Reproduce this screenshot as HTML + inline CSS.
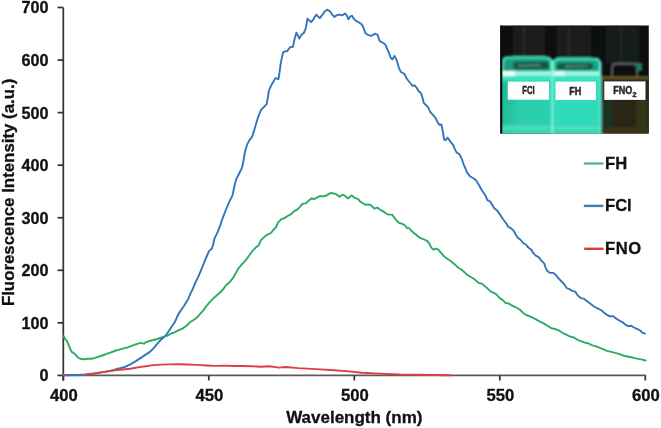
<!DOCTYPE html>
<html><head><meta charset="utf-8"><style>
html,body{margin:0;padding:0;background:#fff;}
svg{display:block;font-family:"Liberation Sans",sans-serif;font-weight:bold;filter:blur(0.4px);}
</style></head><body>
<svg width="661" height="428" viewBox="0 0 661 428">
<defs>
<filter id="bl" x="-10%" y="-10%" width="120%" height="120%"><feGaussianBlur stdDeviation="0.8"/></filter>
<filter id="bl2" x="-10%" y="-10%" width="120%" height="120%"><feGaussianBlur stdDeviation="1.5"/></filter>
<filter id="ls" x="-5%" y="-5%" width="110%" height="110%"><feGaussianBlur stdDeviation="0.45"/></filter>
<filter id="pb1" x="-5%" y="-5%" width="110%" height="110%"><feGaussianBlur stdDeviation="0.9"/></filter>
<filter id="pb2" x="-5%" y="-5%" width="110%" height="110%"><feGaussianBlur stdDeviation="0.45"/></filter>
<linearGradient id="cy" x1="0" y1="0" x2="0" y2="1">
<stop offset="0" stop-color="#2fcfa8"/><stop offset="1" stop-color="#2bc09c"/>
</linearGradient>
</defs>
<rect width="661" height="428" fill="#fff"/>
<!-- inset photo -->

<linearGradient id="v1l" x1="0" y1="0" x2="1" y2="0"><stop offset="0" stop-color="#22b896"/><stop offset="1" stop-color="#2ccfad"/></linearGradient>
<clipPath id="pc"><rect x="500.3" y="25.6" width="148.5" height="108"/></clipPath>
<g clip-path="url(#pc)">
<rect x="500" y="25" width="150" height="110" fill="#0d0f0f"/>
<g filter="url(#pb1)">
<rect x="513" y="26" width="32" height="32" fill="#1b1f1f"/>
<rect x="557" y="26" width="34" height="33" fill="#1b1f1f"/>
<rect x="606" y="26" width="33" height="38" fill="#171b1b"/>
<rect x="523" y="26" width="2" height="30" fill="#252a2a"/>
<rect x="568" y="26" width="2" height="30" fill="#252a2a"/>
<rect x="620" y="26" width="2" height="36" fill="#222626"/>
<!-- vial 3 -->
<rect x="602" y="79" width="47" height="56" fill="#2a2614"/>
<rect x="603" y="100" width="10" height="34" fill="#1e3024"/>
<rect x="636" y="100" width="12" height="34" fill="#323416"/>
<rect x="604" y="127" width="44" height="7" fill="#3a301a"/>
<path d="M612 76 L612 68 Q612 64 617 64 L633 64 Q637 64 637 68 L637 76" fill="none" stroke="#56605e" stroke-width="2.4"/>
<rect x="636" y="63" width="6" height="8" fill="#1f7a5a"/>
<rect x="602" y="76" width="47" height="3.2" fill="#665424"/>
<!-- vial 1 -->
<path d="M501.5 135 L501.5 62 Q501.5 56.2 508 56.2 L546 56.2 Q552.5 56.2 552.5 62 L552.5 135 Z" fill="#3ed6b0"/>
<path d="M504 72 L504 63 Q504 58.8 509 58.8 L545 58.8 Q550 58.8 550 63 L550 72 Z" fill="#1f9c7c"/>
<rect x="513" y="61.8" width="36" height="7.2" rx="3" fill="#135848"/>
<line x1="519" y1="65.6" x2="541" y2="65.3" stroke="#8fb0a8" stroke-width="1.1" stroke-dasharray="2.5 1.2"/>
<!-- vial 2 -->
<path d="M552.5 135 L552.5 63.5 Q552.5 57.6 559 57.6 L595 57.6 Q601 57.6 601 63.5 L601 135 Z" fill="#3edab4"/>
<path d="M555 72 L555 64.5 Q555 60.2 560 60.2 L594 60.2 Q598.5 60.2 598.5 64.5 L598.5 72 Z" fill="#1f9c7c"/>
<rect x="557" y="63.3" width="36" height="6" rx="3" fill="#135848"/>
<line x1="566" y1="66.4" x2="588" y2="66" stroke="#8fb0a8" stroke-width="1.1" stroke-dasharray="2.5 1.2"/>
<!-- bright band -->
<rect x="501.5" y="71.2" width="99" height="4.4" fill="#a0f8e6"/>
<rect x="502" y="71" width="13" height="5" fill="#eafffa"/>
<rect x="553" y="71.2" width="12" height="4.4" fill="#d6fff5"/>
<rect x="501.5" y="76" width="99" height="5" fill="#3ae2c4"/>
<!-- bodies -->
<rect x="501.5" y="81" width="51" height="54" fill="#2ccfad"/>
<rect x="501.5" y="81" width="18" height="54" fill="url(#v1l)"/>
<rect x="553" y="81" width="47.5" height="54" fill="#2ddcbc"/>
<rect x="501.5" y="124" width="99" height="10" fill="#3cd6b4" opacity="0.7"/>
<rect x="501.5" y="126.5" width="99" height="3" fill="#5ee6c8" opacity="0.6"/>
<!-- edges -->
<rect x="551.3" y="60" width="2" height="75" fill="#7ff0dc"/>
<rect x="599.3" y="62" width="2.2" height="73" fill="#63e8d0"/>
</g>
<rect x="500" y="25" width="2.2" height="110" fill="#0b0d0d"/>
<g filter="url(#pb2)">
<rect x="507.8" y="81.6" width="41.3" height="18.1" fill="#fff"/>
<rect x="555.5" y="81.6" width="40.5" height="18.4" fill="#fff"/>
<rect x="604.3" y="81.4" width="41.2" height="18.5" fill="#fff"/>
<g font-size="10.2" fill="#262626" stroke="#262626" stroke-width="0.45" font-weight="bold">
<text x="522.3" y="94.3" textLength="12.4" lengthAdjust="spacingAndGlyphs">FCl</text>
<text x="569.2" y="94.7" textLength="12.1" lengthAdjust="spacingAndGlyphs">FH</text>
<text x="613.2" y="94.4" textLength="19" lengthAdjust="spacingAndGlyphs">FNO</text>
<text x="632.6" y="96.6" font-size="6.8" textLength="4" lengthAdjust="spacingAndGlyphs">2</text>
</g>
</g>
</g>

<!-- axes -->
<g stroke="#353535" stroke-width="1.75" fill="none">
<line x1="63.3" y1="7.5" x2="63.3" y2="380.5"/>
<line x1="62.5" y1="375.4" x2="645.8" y2="375.4" stroke="#5a5a5a" stroke-width="1.9"/>
<line x1="57.5" y1="375.40" x2="63.3" y2="375.40"/><line x1="57.5" y1="322.84" x2="63.3" y2="322.84"/><line x1="57.5" y1="270.29" x2="63.3" y2="270.29"/><line x1="57.5" y1="217.73" x2="63.3" y2="217.73"/><line x1="57.5" y1="165.17" x2="63.3" y2="165.17"/><line x1="57.5" y1="112.61" x2="63.3" y2="112.61"/><line x1="57.5" y1="60.06" x2="63.3" y2="60.06"/><line x1="57.5" y1="7.50" x2="63.3" y2="7.50"/><line x1="63.30" y1="375.4" x2="63.30" y2="380.5"/><line x1="208.80" y1="375.4" x2="208.80" y2="380.5"/><line x1="354.30" y1="375.4" x2="354.30" y2="380.5"/><line x1="499.80" y1="375.4" x2="499.80" y2="380.5"/><line x1="645.30" y1="375.4" x2="645.30" y2="380.5"/>
</g>
<!-- series -->
<g fill="none" stroke-width="1.9" stroke-linejoin="round" stroke-linecap="round" filter="url(#ls)">
<polyline stroke="#2eab64" points="63.5,336.2 65.3,339 67,341.4 68.2,343.9 69.4,346.8 70.6,350 71.9,352.1 73.5,352.9 75.1,354.1 76.8,356.2 78.8,358.2 81.3,359 84.5,359.3 87.8,358.8 91.1,358.8 94.1,358.2 98.2,356.9 102.3,355.5 106.4,353.9 110.4,352.7 114.5,351 118.6,349.8 122.7,348.6 126.8,347.6 130.3,346.4 135.5,344.3 140.8,342.8 143.9,343.7 146.1,342.1 151.3,340.5 156.6,339.3 160,338 163.7,336.8 167.5,335.6 171.2,333.5 175,332.1 178.7,330.2 182.4,328.6 186.2,326 189.9,322.3 193.6,320 197.4,317.1 200,314 202.7,311.2 206.2,306.3 210.4,301.4 214.6,297.2 219.5,293 223,289.5 225.9,285.2 229.4,282.4 232.9,278.2 235.7,273.2 238.5,268.3 242,264.1 245.5,260.6 249,255.7 252.5,250.8 256,247.3 258.8,245.2 260.9,240.2 263.8,237.4 267.3,234.6 270.8,233.2 272.9,230.4 275.7,227.5 278.2,222.3 281.3,219.2 284.5,218.1 287.6,216 290.8,214.4 293.9,211.3 297.1,209.7 300.2,206.6 302.3,203.9 305.5,203.4 308.6,200.8 311.3,198.5 314.4,199 317.5,197.4 319.9,196 323.2,196.4 326.5,195.5 328.9,193.9 331,192.9 333.4,193.5 335.9,193.9 337.9,195.5 339.5,196.8 341.2,195.5 343.2,194.7 345.3,196 347.3,198 348.6,198.4 350.2,196.4 351.8,195.5 353.9,197.2 355.9,198.4 358,198.9 359.7,201.1 362.5,203 365.3,204.8 369,204.4 371.8,205.8 374.2,208.6 377.5,207.6 379.8,209.5 383.1,211.4 385.9,213.2 388.2,214.6 392,214.6 394.3,217.5 396.6,220.7 399.2,222.9 402.4,223.9 405,225.5 407.1,228.1 409.2,228.1 411.3,230.8 413.9,232.9 416.6,235 418.7,237.1 421.8,238.7 424.4,239.7 427.1,240.8 429.2,243.4 431.3,247.6 433.4,249.7 436,248.6 438.1,249.4 440.8,252.6 443.8,256.1 446.7,258.4 449.6,260.2 452.5,262.5 455.4,264.9 458.4,267.8 461.3,269.5 464.2,271.9 467.1,274.8 470,276.5 473,278.3 475.9,280.6 478.8,283 481.7,283.6 484.6,285.9 487.9,288.8 490.8,291.7 493.8,292.9 496.7,294.6 499.6,298.1 502.5,299.9 505.4,302.8 508.4,303.4 511.3,305.1 514.2,306.6 517.1,308 520,309.8 523,312.7 525.9,314.8 528.8,316 531.7,317.1 534.6,318.6 537.6,320.3 540.5,321.8 543.7,323.4 547.5,325.7 551.2,328.1 555,329 558.7,330.4 562.4,332.8 566.2,334.6 569.9,336.5 573.6,337.4 577.4,339.8 581.1,341.2 584.9,342.6 588.6,343.5 592.3,345.4 596.1,346.3 600,347.8 606.3,350.7 613.3,352.4 618.9,353.8 624.5,356 630.1,357 635.7,358.4 641.3,359.4 645.6,360.5"/>
<polyline stroke="#3375bb" points="63.3,375.2 80,375 85,374.8 92,374.1 99,372.9 106,371.6 113,370.3 117,369 121,368 125,366.8 130.3,364.4 135.5,361.4 140.8,357.9 146.1,354.4 150.3,351.6 153.4,348.4 156.6,344.7 159.7,341.2 161.5,339.2 163.7,337.2 166.5,334.6 169.3,330.3 172.1,326 175,321.8 176.8,317.5 178.7,313.6 181.5,309.5 184.3,305.5 187,301 188.2,299.2 190.3,293.9 192.9,288.6 195.5,282.3 198.1,277.1 200.8,270.8 203.4,264.5 205.5,259.2 207.1,255.5 209,251 211.8,248.8 213.2,244.5 214.6,238.2 217.4,232.6 220.2,225.6 222.2,219.3 225.6,210.5 229.1,202.1 232.6,195.1 234,188 236.1,179.6 238.9,174 241.7,168.4 243.1,162.8 243.8,158.9 244.9,151.9 247,144.9 249.1,140.7 251.9,137.2 254,130.9 256.1,123.8 258.2,116.8 261,109.8 264.5,106.3 266.6,104.2 267.6,98.9 269,90.5 271.1,85.6 273.2,82.1 275.3,78.1 278.5,79 279.5,72.3 280.9,62.4 283,52.6 285.1,51.2 287.2,51.2 290,47.2 292.9,46.7 294.7,38.6 296.4,32.7 298.2,36.2 299.3,38.6 301.7,34.5 304,32.7 305.8,28 307.5,18.7 309.3,20.4 311,22.2 313.4,19.3 316.3,14.6 318,16.4 319.8,18.1 322.1,15.2 324.5,11.7 327.4,9.6 330.3,11.7 332.7,15.2 334.4,16.9 336.8,15.2 339.7,14.6 342.6,15.4 344.9,13.4 346.7,15.2 348.4,19.3 350.2,16.4 352,15.8 353.7,18.7 356,20.8 359,22.4 361.9,24.5 363.6,28 365.4,33.3 367.8,34.8 371.3,35.9 374.8,33.7 377.6,34.8 379.7,41.1 382.5,42.5 385.3,44.6 388.1,50.9 390.9,58 392.3,59.4 394.5,55.9 396.6,60.1 398.7,67.1 400.8,72 402.9,72.9 404.9,74.8 407,79 409.8,82.5 412.6,85.8 414.7,85.3 416.8,88.1 418.9,91.6 421,93 422.4,97.3 423.8,102.9 425.9,105 428.1,107.1 430.2,112 433,114.8 435.8,118.3 437.1,121.3 439.2,124.8 441.3,124.5 442.7,130.4 444.1,139.5 445.5,140.2 447.6,137.7 450.4,141.6 453.2,145.2 455.3,150.1 456.7,152.6 459.5,154.3 461.6,158.5 463.8,164.8 465.5,168.5 467.1,172.7 469.9,176.2 473.4,178.3 476.2,180.4 479,185.3 481.8,190.2 485.3,195.2 487.4,200.1 490.2,201.5 492.3,205 494.5,208.5 497.3,210.6 500.1,214.8 502.9,219 505,221.8 506.3,223.4 508.4,226.9 511.2,228.3 514,231.1 516.1,235.3 518.2,238.1 521,240.2 523.1,243 525.9,244.5 528.1,247.3 530.9,249.4 533.7,253.6 535.8,255.7 538.6,257.1 541.4,260.6 544.2,263.4 545.6,267.6 547.4,271.1 549.9,272.9 553.4,272.9 555.5,274.7 558.3,278.2 561.1,281 563.9,283.8 566.7,288.1 569.5,289.2 572.3,290.9 575.2,291.6 578,295.8 580.8,298.1 583.6,298.6 586.4,300.7 589.2,302.8 592,304.9 594.8,307 597.6,308.4 601.8,310.5 603.9,312.6 606.6,314.7 609.7,316.3 613.4,316.3 616,318.4 619.2,320.5 622.3,322.1 625.5,324.7 628.1,326.1 631.3,325.8 633.9,327.5 637.1,328.9 640.2,330.5 642.3,332.6 645,333.6"/>
<polyline stroke="#dc4045" points="63.3,374.9 78,374.9 85,374.5 92,373.6 99,372.6 106,371.6 113,370.6 120,369.7 125,369.2 130.3,368.7 135.5,367.7 140.8,366.9 146.1,366.2 151.3,365.4 156.6,364.9 161.8,364.6 168.9,364.4 179.1,364.2 188.1,364.5 197.2,364.9 206.3,365.5 215.4,365.9 224.4,365.6 233.5,366 242.6,366 251.7,366.3 260.7,366.7 269.8,366.2 278.9,367.6 285.4,367 298.1,368.1 316.3,369.1 334.4,370.3 349,371.4 361.7,372.7 379.8,373.6 400,374.5 450,375.2"/>
<polyline stroke="#3375bb" points="67,375.1 80,375 84,374.9"/>
</g>
<!-- labels -->
<g font-size="16.2" fill="#111" stroke="#111" stroke-width="0.3">
<text x="48.6" y="381.30" text-anchor="end">0</text><text x="48.6" y="328.74" text-anchor="end">100</text><text x="48.6" y="276.19" text-anchor="end">200</text><text x="48.6" y="223.63" text-anchor="end">300</text><text x="48.6" y="171.07" text-anchor="end">400</text><text x="48.6" y="118.51" text-anchor="end">500</text><text x="48.6" y="65.96" text-anchor="end">600</text><text x="48.6" y="13.40" text-anchor="end">700</text>
<text x="63.80" y="400.8" font-size="16.7" text-anchor="middle">400</text><text x="209.30" y="400.8" font-size="16.7" text-anchor="middle">450</text><text x="354.80" y="400.8" font-size="16.7" text-anchor="middle">500</text><text x="500.30" y="400.8" font-size="16.7" text-anchor="middle">550</text><text x="645.80" y="400.8" font-size="16.7" text-anchor="middle">600</text>
</g>
<text x="354.3" y="423" font-size="17" fill="#111" stroke="#111" stroke-width="0.3" text-anchor="middle">Wavelength (nm)</text>
<text transform="translate(13.8,192.4) rotate(-90)" font-size="16.85" fill="#111" stroke="#111" stroke-width="0.3" text-anchor="middle">Fluorescence Intensity (a.u.)</text>
<!-- legend -->
<g stroke-width="2.4">
<line x1="583.8" y1="163.5" x2="603.4" y2="163.5" stroke="#55b888"/>
<line x1="583.8" y1="205.9" x2="603.4" y2="205.9" stroke="#467daf"/>
<line x1="584.2" y1="248.8" x2="603.5" y2="248.8" stroke="#dc3c3c"/>
</g>
<g font-size="16.6" fill="#111" stroke="#111" stroke-width="0.3">
<text x="605" y="168.5">FH</text>
<text x="605" y="210.8">FCl</text>
<text x="605" y="254.3" textLength="36.1" lengthAdjust="spacing">FNO</text>
</g>
</svg>
</body></html>
